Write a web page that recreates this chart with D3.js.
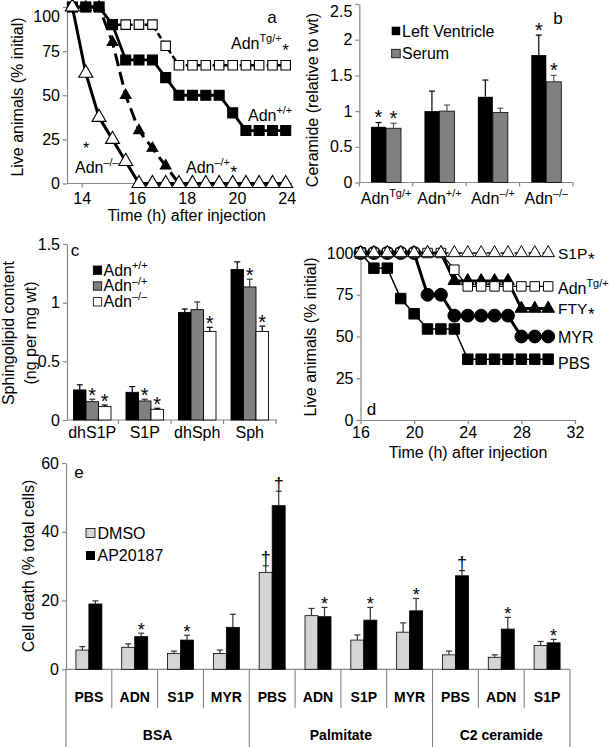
<!DOCTYPE html>
<html><head><meta charset="utf-8">
<script src="https://cdn.jsdelivr.net/npm/d3@7"></script>
<style>
body{margin:0;background:#fff}
text{font-family:"Liberation Sans",Arial,sans-serif;fill:#000}
</style>
</head><body>
<svg id="c" width="609" height="747" xmlns="http://www.w3.org/2000/svg"></svg>
<script>
// ---------- DATA ----------
// Panel a: survival (time estimated from point positions)
const timeA = [13.66,14.15,14.63,15.12,15.6,16.09,16.63,17.16,17.69,18.23,18.76,19.29,19.83,20.72,21.78,22.86,23.92];
const tickA = [14,16,18,20,24];
const aTg  = [100,100,100,90,90,90,90,78,67,67,67,67,67,67,67,67,67];
const aWt  = [100,100,100,90,70,70,70,60,50,50,50,50,40,30,30,30,30];
const aHet = [100,100,100,80,50,30,20,10,0];
const aKo  = [100,62.5,37.5,25,12.5,0,0,0,0,0,0,0,0,0,0,0,0];
const ticksYA = [0,25,50,75,100];

// Panel b: ceramide
const catB = ["Tg/+","+/+","\u2013/+","\u2013/\u2013"];
const lvB = [0.78,1.0,1.2,1.785];
const lvErrB = [0.06,0.28,0.235,0.28];
const seB = [0.76,1.0,0.98,1.41];
const seErrB = [0.07,0.085,0.06,0.09];
const lvSigB = [1,0,0,1];
const seSigB = [1,0,0,1];
const ticksYB = [0,0.5,1,1.5,2,2.5];

// Panel c: sphingolipids
const catC = ["dhS1P","S1P","dhSph","Sph"];
const cWt = [0.256,0.236,0.917,1.282];
const cWtErr = [0.044,0.049,0.029,0.066];
const cHet = [0.156,0.162,0.94,1.134];
const cHetErr = [0.021,0.015,0.066,0.066];
const cKo = [0.114,0.091,0.755,0.755];
const cKoErr = [0.014,0.009,0.035,0.045];
const cHetSig = [1,1,0,1];
const cKoSig = [1,1,1,1];
const ticksYC = [0,0.5,1,1.5];

// Panel d: survival
const timeD = [16,17,18,19,20,21,22,23,24,25,26,27,28,29,30];
const dS1P = [100,100,100,100,100,100,100,100,100,100,100,100,100,100,100];
const dTg  = [100,100,100,100,100,100,100,90,80,80,80,80,80,80,80];
const dFTY = [100,100,100,100,100,100,100,83.3,83.3,83.3,83.3,83.3,66.7,66.7,66.7];
const dMYR = [100,100,100,100,100,75,75,62.5,62.5,62.5,62.5,62.5,50,50,50];
const dPBS = [100,90.9,90.9,72.7,63.6,54.5,54.5,54.5,36.4,36.4,36.4,36.4,36.4,36.4,36.4];
const ticksXD = [16,20,24,28,32];
const ticksYD = [0,25,50,75,100];

// Panel e: cell death
const catE = ["PBS","ADN","S1P","MYR","PBS","ADN","S1P","MYR","PBS","ADN","S1P"];
const groupE = ["BSA","Palmitate","C2 ceramide"];
const groupSizeE = [4,4,3];
const dmso = [5.6,6.4,4.6,4.6,28.2,15.6,8.5,10.8,4.2,3.5,6.9];
const dmsoErr = [1.0,1.0,0.7,1.0,1.9,2.1,1.5,2.7,1.1,0.7,1.2];
const ap = [19.0,9.5,8.5,12.2,47.6,15.3,14.3,17.0,27.2,11.7,7.7];
const apErr = [0.9,1.0,1.4,3.8,4.2,2.7,3.7,3.6,1.5,3.4,1.0];
const dmsoMark = ["","","","","\u2020","","","","","",""];
const apMark = ["","*","*","","\u2020","*","*","*","\u2020","*","*"];
const ticksYE = [0,20,40,60];

// ---------- HELPERS ----------
const svg = d3.select("#c");
svg.append("rect").attr("width",609).attr("height",747).attr("fill","#fff");
const AX = "#888";

function styleAxis(g){
  g.selectAll("path.domain").attr("stroke",AX).attr("stroke-width",1.2);
  g.selectAll(".tick line").attr("stroke",AX).attr("stroke-width",1.2);
  g.selectAll(".tick text").attr("font-size",16).attr("fill","#000")
   .attr("font-family","Liberation Sans, Arial, sans-serif");
}
function adn(x,y,sup,size,anchor){
  const t = svg.append("text").attr("x",x).attr("y",y).attr("font-size",size).attr("text-anchor",anchor||"start");
  t.append("tspan").text("Adn");
  t.append("tspan").attr("dy",-size*0.42).attr("font-size",size*0.68).text(sup);
  return t;
}
function star(cx,cy,fs,ch){
  svg.append("text").attr("x",cx).attr("y",cy+0.58*fs).attr("font-size",fs)
    .attr("text-anchor","middle").text(ch||"*");
}
function starAfter(t,cy,gap){
  const b = t.node().getBBox();
  star(b.x+b.width+gap+4,cy,17);
}
function yTitle(cx,cy,txt,fs){
  svg.append("text").attr("transform",`translate(${cx},${cy}) rotate(-90)`)
    .attr("text-anchor","middle").attr("font-size",fs||16).text(txt);
}
function errBar(x,yTop,yVal,col){
  svg.append("line").attr("x1",x).attr("x2",x).attr("y1",yVal).attr("y2",yTop).attr("stroke",col).attr("stroke-width",1.2);
  svg.append("line").attr("x1",x-3).attr("x2",x+3).attr("y1",yTop).attr("y2",yTop).attr("stroke",col).attr("stroke-width",1.2);
}

// ---------- PANEL A ----------
{
  const x = d3.scaleLinear().domain(tickA).range([81.7,136.7,186.7,237,286.7]);
  const y = d3.scaleLinear().domain([0,100]).range([183.5,7]);
  const gy = svg.append("g").attr("transform","translate(67,0)")
    .call(d3.axisLeft(y).tickValues(ticksYA).tickSize(4).tickSizeOuter(0).tickPadding(3));
  styleAxis(gy);
  gy.selectAll(".tick text").filter(d=>d===100).attr("dy","0.9em");
  const gx = svg.append("g").attr("transform","translate(0,183.5)")
    .call(d3.axisBottom(x).tickValues(tickA).tickSize(4).tickSizeOuter(0).tickPadding(5));
  gx.select("path.domain").attr("d","M67,0H292");
  styleAxis(gx);
  const line = d3.line().x((d,i)=>x(timeA[i])).y(d=>y(d));
  function series(vals,dash,w,sym,size,fill){
    svg.append("path").datum(vals).attr("d",line).attr("fill","none").attr("stroke","#000")
      .attr("stroke-width",w).attr("stroke-dasharray",dash||null);
    svg.selectAll(null).data(vals).enter().append("path")
      .attr("d",d3.symbol().type(sym).size(size))
      .attr("transform",(d,i)=>`translate(${x(timeA[i])},${y(d)})`)
      .attr("fill",fill).attr("stroke","#000").attr("stroke-width",1.1);
  }
  series(aTg,"6,3",2.5,d3.symbolSquare,90,"#fff");
  series(aWt,null,2.8,d3.symbolSquare,100,"#000");
  series(aHet,"13,6",3,d3.symbolTriangle,50,"#000");
  series(aKo,null,3,d3.symbolTriangle,85,"#fff");

  svg.append("text").attr("x",272).attr("y",23).attr("font-size",17).attr("text-anchor","middle").text("a");
  const t1 = adn(231,49,"Tg/+",16); starAfter(t1,46,0);
  adn(248,121,"+/+",16);
  const t2 = adn(186,172.5,"\u2013/+",16); starAfter(t2,168,0);
  star(86,145,16);
  adn(75,173,"\u2013/\u2013",16);
  svg.append("text").attr("x",186.7).attr("y",221).attr("font-size",16).attr("text-anchor","middle").text("Time (h) after injection");
  yTitle(23,97,"Live animals (% initial)",16);
}

// ---------- PANEL B ----------
{
  const x = d3.scaleBand().domain(d3.range(catB.length)).range([359.3,573]);
  const y = d3.scaleLinear().domain([0,2.5]).range([182.5,4]);
  const gy = svg.append("g").attr("transform","translate(359.3,0)")
    .call(d3.axisLeft(y).tickValues(ticksYB).tickFormat(d=>d).tickSize(4).tickSizeOuter(0).tickPadding(3));
  styleAxis(gy);
  gy.selectAll(".tick text").filter(d=>d===2.5).attr("dy","0.75em");
  svg.append("line").attr("x1",359.3).attr("x2",573).attr("y1",182.5).attr("y2",182.5).attr("stroke",AX).attr("stroke-width",1.2);
  for(let i=0;i<=catB.length;i++){
    const xx = 359.3 + x.step()*i;
    svg.append("line").attr("x1",xx).attr("x2",xx).attr("y1",182.5).attr("y2",186.5).attr("stroke",AX).attr("stroke-width",1.2);
  }
  const bw = 15;
  catB.forEach((c,i)=>{
    const cx = x(i)+x.bandwidth()/2;
    svg.append("rect").attr("x",cx-bw).attr("y",y(lvB[i])).attr("width",bw).attr("height",y(0)-y(lvB[i])).attr("fill","#000");
    svg.append("rect").attr("x",cx).attr("y",y(seB[i])).attr("width",bw).attr("height",y(0)-y(seB[i])).attr("fill","#808080").attr("stroke","#000").attr("stroke-width",0.8);
    errBar(cx-bw/2,y(lvB[i]+lvErrB[i]),y(lvB[i]),"#000");
    errBar(cx+bw/2,y(seB[i]+seErrB[i]),y(seB[i]),"#555");
    if(lvSigB[i]) star(cx-bw/2,y(lvB[i]+lvErrB[i])-10,20);
    if(seSigB[i]) star(cx+bw/2,y(seB[i]+seErrB[i])-10,20);
    adn(cx,204,c,16,"middle");
  });
  svg.append("rect").attr("x",391.7).attr("y",26.7).attr("width",8.5).attr("height",8.5).attr("fill","#000");
  svg.append("text").attr("x",402).attr("y",36.5).attr("font-size",16).text("Left Ventricle");
  svg.append("rect").attr("x",391.7).attr("y",49.3).attr("width",8.5).attr("height",8.5).attr("fill","#808080").attr("stroke","#000").attr("stroke-width",0.8);
  svg.append("text").attr("x",402).attr("y",58.5).attr("font-size",16).text("Serum");
  svg.append("text").attr("x",558).attr("y",24).attr("font-size",17).attr("text-anchor","middle").text("b");
  yTitle(317.5,100,"Ceramide (relative to wt)",16);
}

// ---------- PANEL C ----------
{
  const x = d3.scaleBand().domain(d3.range(catC.length)).range([66,276]);
  const y = d3.scaleLinear().domain([0,1.5]).range([420,244]);
  const gy = svg.append("g").attr("transform","translate(67,0)")
    .call(d3.axisLeft(y).tickValues(ticksYC).tickFormat(d=>d).tickSize(4).tickSizeOuter(0).tickPadding(3));
  styleAxis(gy);
  svg.append("line").attr("x1",67).attr("x2",277).attr("y1",420).attr("y2",420).attr("stroke",AX).attr("stroke-width",1.2);
  for(let i=1;i<=catC.length;i++){
    const xx = 66 + x.step()*i;
    svg.append("line").attr("x1",xx).attr("x2",xx).attr("y1",420).attr("y2",424).attr("stroke",AX).attr("stroke-width",1.2);
  }
  const bw = 12.5;
  const sets = [[cWt,cWtErr,"#000",null,"#000"],[cHet,cHetErr,"#808080",cHetSig,"#333"],[cKo,cKoErr,"#fff",cKoSig,"#000"]];
  catC.forEach((c,i)=>{
    const x0 = x(i)+x.bandwidth()/2 - 1.5*bw;
    sets.forEach((s,j)=>{
      const v=s[0][i], e=s[1][i];
      const bx = x0 + j*bw;
      svg.append("rect").attr("x",bx).attr("y",y(v)).attr("width",bw).attr("height",y(0)-y(v))
        .attr("fill",s[2]).attr("stroke","#000").attr("stroke-width",0.9);
      errBar(bx+bw/2,y(v+e),y(v),s[4]);
      if(s[3] && s[3][i]) star(bx+bw/2,y(v+e)-9,20);
    });
    svg.append("text").attr("x",x(i)+x.bandwidth()/2).attr("y",437.5).attr("font-size",16).attr("text-anchor","middle").text(c);
  });
  const leg = [["+/+","#000"],["\u2013/+","#808080"],["\u2013/\u2013","#fff"]];
  leg.forEach((l,k)=>{
    svg.append("rect").attr("x",93.3).attr("y",266+k*15.8).attr("width",8.4).attr("height",8.4)
      .attr("fill",l[1]).attr("stroke","#000").attr("stroke-width",0.8);
    adn(103.5,275.5+k*15.8,l[0],16);
  });
  svg.append("text").attr("x",75).attr("y",256).attr("font-size",17).attr("text-anchor","middle").text("c");
  yTitle(14,333,"Sphingolipid content",16);
  yTitle(36,333,"(ng per mg wt)",16);
}

// ---------- PANEL D ----------
{
  const x = d3.scaleLinear().domain([16,32]).range([360.5,575]);
  const y = d3.scaleLinear().domain([0,100]).range([420,253]);
  const gy = svg.append("g").attr("transform","translate(360.5,0)")
    .call(d3.axisLeft(y).tickValues(ticksYD).tickSize(4).tickSizeOuter(0).tickPadding(3));
  styleAxis(gy);
  const gx = svg.append("g").attr("transform","translate(0,420)")
    .call(d3.axisBottom(x).tickValues(ticksXD).tickSize(4).tickSizeOuter(0).tickPadding(3));
  styleAxis(gx);
  const line = d3.line().x((d,i)=>x(timeD[i])).y(d=>y(d));
  function series(vals,dash,w,sym,size,fill){
    svg.append("path").datum(vals).attr("d",line).attr("fill","none").attr("stroke","#000")
      .attr("stroke-width",w).attr("stroke-dasharray",dash||null);
    svg.selectAll(null).data(vals).enter().append("path")
      .attr("d",d3.symbol().type(sym).size(size))
      .attr("transform",(d,i)=>`translate(${x(timeD[i])},${y(d)})`)
      .attr("fill",fill).attr("stroke","#000").attr("stroke-width",1);
  }
  series(dPBS,null,1.5,d3.symbolSquare,110,"#000");
  series(dMYR,null,3,d3.symbolCircle,130,"#000");
  series(dFTY,null,3,d3.symbolTriangle,70,"#000");
  series(dTg,null,1.3,d3.symbolSquare,90,"#fff");
  series(dS1P,"4,3",1.3,d3.symbolTriangle,70,"#fff");

  const s1 = svg.append("text").attr("x",558).attr("y",259).attr("font-size",15.5).text("S1P");
  starAfter(s1,255,0);
  adn(558,294,"Tg/+",16);
  const f1 = svg.append("text").attr("x",558).attr("y",314).attr("font-size",15.5).text("FTY");
  starAfter(f1,310,0);
  svg.append("text").attr("x",558).attr("y",342.5).attr("font-size",16).text("MYR");
  svg.append("text").attr("x",558).attr("y",369).attr("font-size",16).text("PBS");
  svg.append("text").attr("x",371.5).attr("y",415).attr("font-size",17).attr("text-anchor","middle").text("d");
  svg.append("text").attr("x",468).attr("y",457.5).attr("font-size",16).attr("text-anchor","middle").text("Time (h) after injection");
  yTitle(316,337,"Live animals (% initial)",16);
}

// ---------- PANEL E ----------
{
  const x = d3.scaleBand().domain(d3.range(catE.length)).range([66,570]);
  const y = d3.scaleLinear().domain([0,60]).range([669.3,463]);
  const gy = svg.append("g").attr("transform","translate(66,0)")
    .call(d3.axisLeft(y).tickValues(ticksYE).tickSize(4).tickSizeOuter(0).tickPadding(3));
  styleAxis(gy);
  svg.append("line").attr("x1",66).attr("x2",570).attr("y1",669.3).attr("y2",669.3).attr("stroke",AX).attr("stroke-width",1.2);
  let cum=[0]; groupSizeE.forEach(s=>cum.push(cum[cum.length-1]+s));
  for(let i=0;i<=catE.length;i++){
    const xx = 66 + x.step()*i;
    const isG = cum.includes(i);
    svg.append("line").attr("x1",xx).attr("x2",xx).attr("y1",669.3).attr("y2",isG?747:708)
      .attr("stroke","#777").attr("stroke-width",1);
  }
  const bw = 13;
  catE.forEach((c,i)=>{
    const cx = x(i)+x.bandwidth()/2;
    svg.append("rect").attr("x",cx-bw).attr("y",y(dmso[i])).attr("width",bw).attr("height",y(0)-y(dmso[i]))
      .attr("fill","#d4d4d4").attr("stroke","#000").attr("stroke-width",0.8);
    svg.append("rect").attr("x",cx).attr("y",y(ap[i])).attr("width",bw).attr("height",y(0)-y(ap[i]))
      .attr("fill","#000").attr("stroke","#000").attr("stroke-width",0.8);
    errBar(cx-bw/2,y(dmso[i]+dmsoErr[i]),y(dmso[i]),"#333");
    errBar(cx+bw/2,y(ap[i]+apErr[i]),y(ap[i]),"#333");
    if(dmsoMark[i]) star(cx-bw/2,y(dmso[i]+dmsoErr[i])-12,18,dmsoMark[i]);
    if(apMark[i]==="*") star(cx+bw/2,y(ap[i]+apErr[i])-8,18,"*");
    else if(apMark[i]) star(cx+bw/2,y(ap[i]+apErr[i])-12,18,apMark[i]);
    svg.append("text").attr("x",cx).attr("y",701.5).attr("font-size",14).attr("font-weight","bold")
      .attr("font-family","Lato, sans-serif").attr("text-anchor","middle").text(c);
  });
  groupE.forEach((g,k)=>{
    const cx = 66 + x.step()*(cum[k]+cum[k+1])/2;
    svg.append("text").attr("x",cx).attr("y",740).attr("font-size",14).attr("font-weight","bold")
      .attr("font-family","Lato, sans-serif").attr("text-anchor","middle").text(g);
  });
  svg.append("rect").attr("x",86).attr("y",528.5).attr("width",9).attr("height",9).attr("fill","#d4d4d4").attr("stroke","#000").attr("stroke-width",0.8);
  svg.append("text").attr("x",97.5).attr("y",539).attr("font-size",16).text("DMSO");
  svg.append("rect").attr("x",86).attr("y",551).attr("width",9).attr("height",9).attr("fill","#000");
  svg.append("text").attr("x",97.5).attr("y",561).attr("font-size",16).text("AP20187");
  svg.append("text").attr("x",79).attr("y",478).attr("font-size",17).attr("text-anchor","middle").text("e");
  yTitle(34,566,"Cell death (% total cells)",16);
}
</script>
</body></html>
